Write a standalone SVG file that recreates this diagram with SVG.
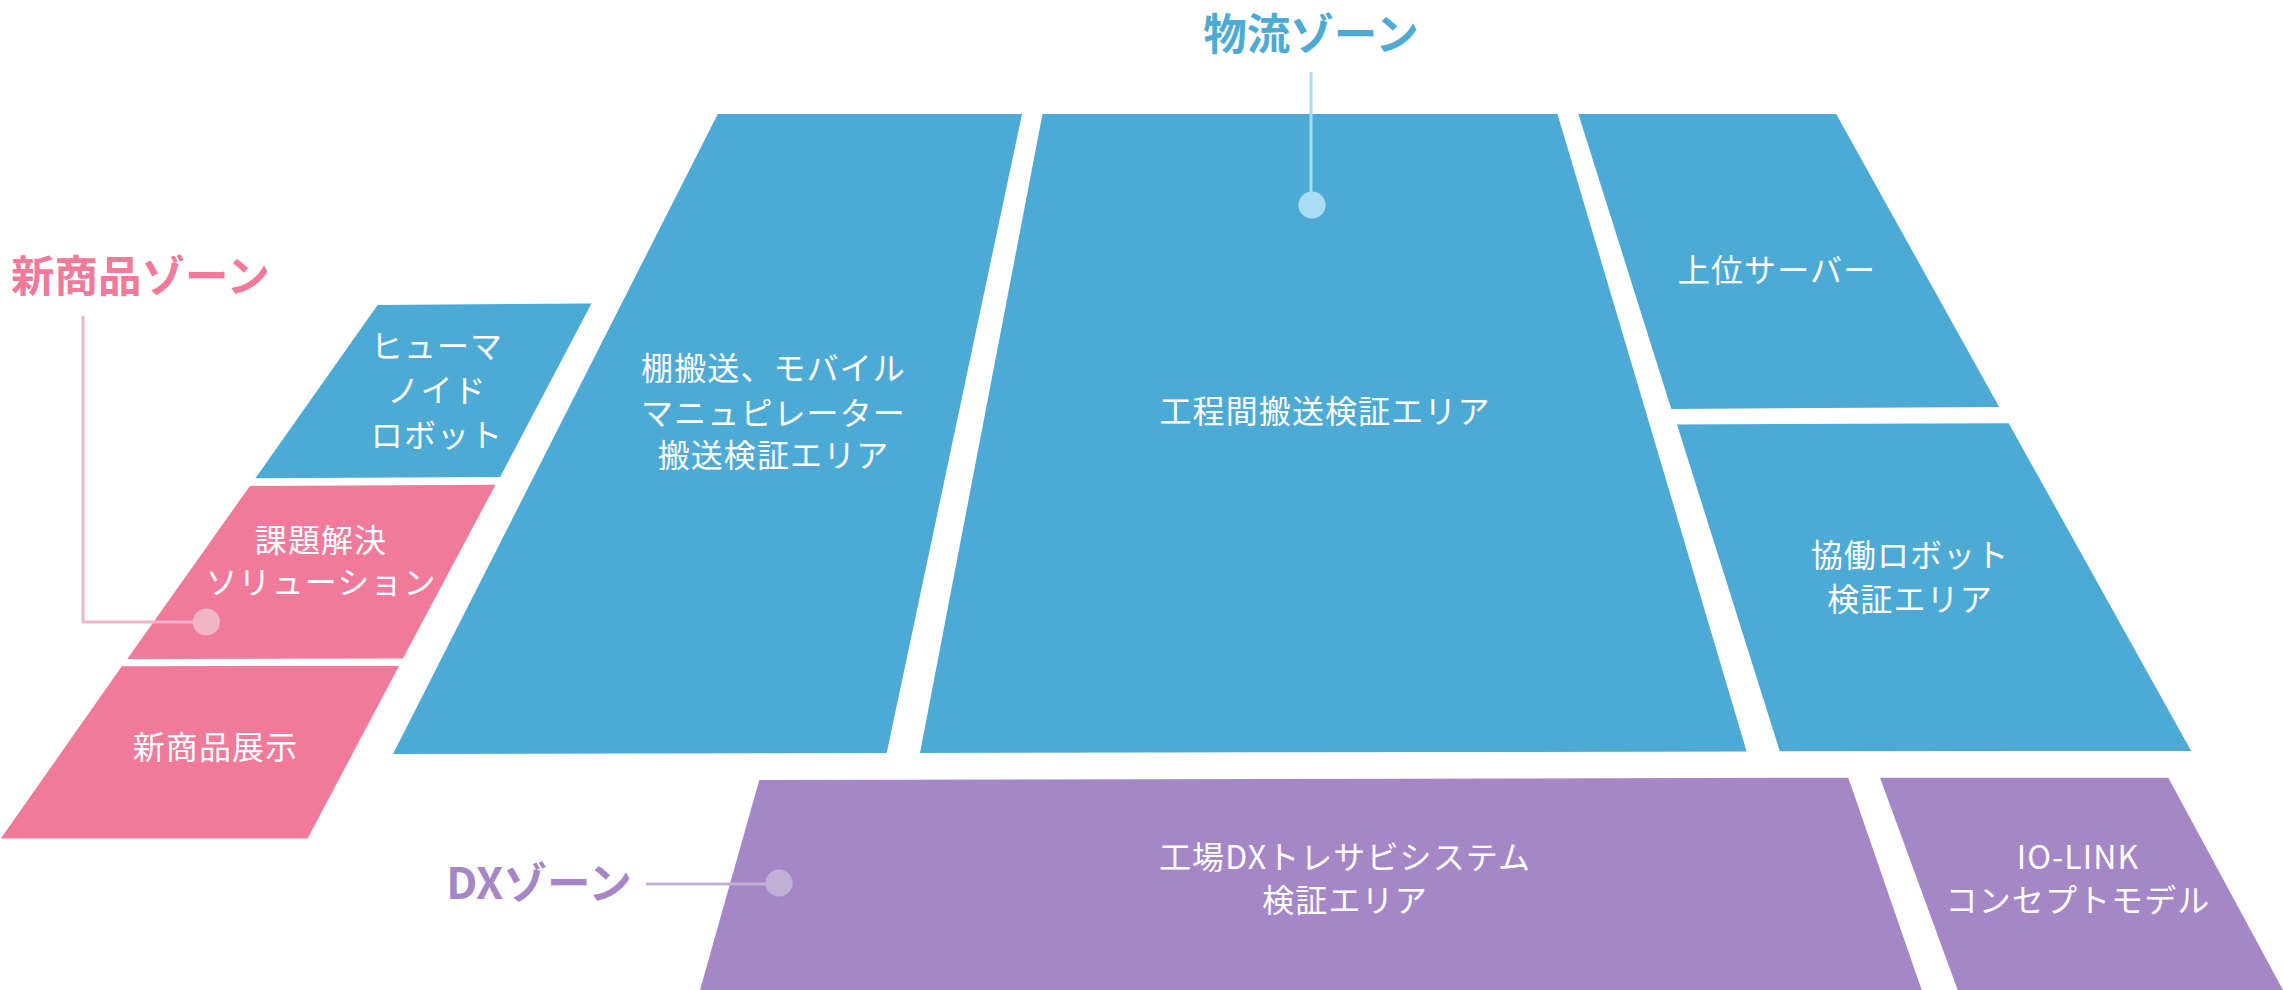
<svg xmlns="http://www.w3.org/2000/svg" width="2283" height="990" viewBox="0 0 2283 990">
<style>
text{font-family:"Noto Sans CJK JP","Noto Sans",sans-serif;text-anchor:middle}
.l{font-size:32px;fill:#fff;letter-spacing:1.1px}
.z{font-size:43.5px;font-weight:700}
.blue{fill:#4caad5}.pink{fill:#f1799a}.purple{fill:#a587c8}
.ln{fill:none;stroke-width:3}
</style>
<rect width="2283" height="990" fill="#fff"/>
<g id="humanoid"><polygon class="blue" points="377.6,305.1 591.5,303.5 500.2,476.9 255.4,478.2"/><text class="l" x="437" y="358">ヒューマ</text><text class="l" x="437" y="402">ノイド</text><text class="l" x="437" y="447">ロボット</text></g>
<g id="solution"><polygon class="pink" points="249.9,485.9 495.5,484.7 402.9,658.6 127.3,659"/><text class="l" x="321" y="552">課題解決</text><text class="l" x="321" y="594">ソリューション</text></g>
<g id="newproduct"><polygon class="pink" points="121.8,666.3 399,665.9 307.6,838.6 0.8,838.6"/><text class="l" x="215.5" y="759">新商品展示</text></g>
<g id="shelf"><polygon class="blue" points="717.8,114 1022,114 886.7,753 393,754"/><text class="l" x="773.5" y="380">棚搬送、モバイル</text><text class="l" x="773.5" y="425">マニュピレーター</text><text class="l" x="773.5" y="467">搬送検証エリア</text></g>
<g id="process"><polygon class="blue" points="1042.5,114 1557.5,114 1746.6,751.5 920,753"/><text class="l" x="1325" y="423">工程間搬送検証エリア</text></g>
<g id="server"><polygon class="blue" points="1578.4,114 1836.2,114 1999.2,407.1 1671.3,408.9"/><text class="l" x="1777" y="282">上位サーバー</text></g>
<g id="cobot"><polygon class="blue" points="1677,424.5 2008.7,423.2 2191.2,750.9 1779.8,751.3"/><text class="l" x="1910" y="567">協働ロボット</text><text class="l" x="1910" y="611">検証エリア</text></g>
<g id="dx"><polygon class="purple" points="759.3,780 1848.3,777.7 1921.7,990 700,990"/><text class="l" x="1345" y="869">工場DXトレサビシステム</text><text class="l" x="1345" y="912">検証エリア</text></g>
<g id="iolink"><polygon class="purple" points="1880,777.7 2168.3,777.7 2283,990 1957.7,990"/><text class="l" x="2078" y="869">IO-LINK</text><text class="l" x="2078" y="912">コンセプトモデル</text></g>
<g id="connectors">
<path class="ln" stroke="#f3b4c8" d="M83 316V622H206"/>
<path class="ln" stroke="#a9dcf5" d="M1311 72V205"/>
<path class="ln" stroke="#c0b0d6" d="M646 884H778"/>
</g>
<g id="labels">
<g id="zone-new"><text class="z pink" x="140.5" y="292">新商品ゾーン</text><circle cx="206.4" cy="622" r="13.6" fill="#f0b5c7"/></g>
<g id="zone-logistics"><text class="z blue" x="1311" y="50">物流ゾーン</text><circle cx="1312" cy="205" r="13.6" fill="#a9dcf5"/></g>
<g id="zone-dx"><text class="z purple" x="539" y="899">DXゾーン</text><circle cx="779" cy="883" r="13.6" fill="#c0b0d6"/></g>
</g>
</svg>
